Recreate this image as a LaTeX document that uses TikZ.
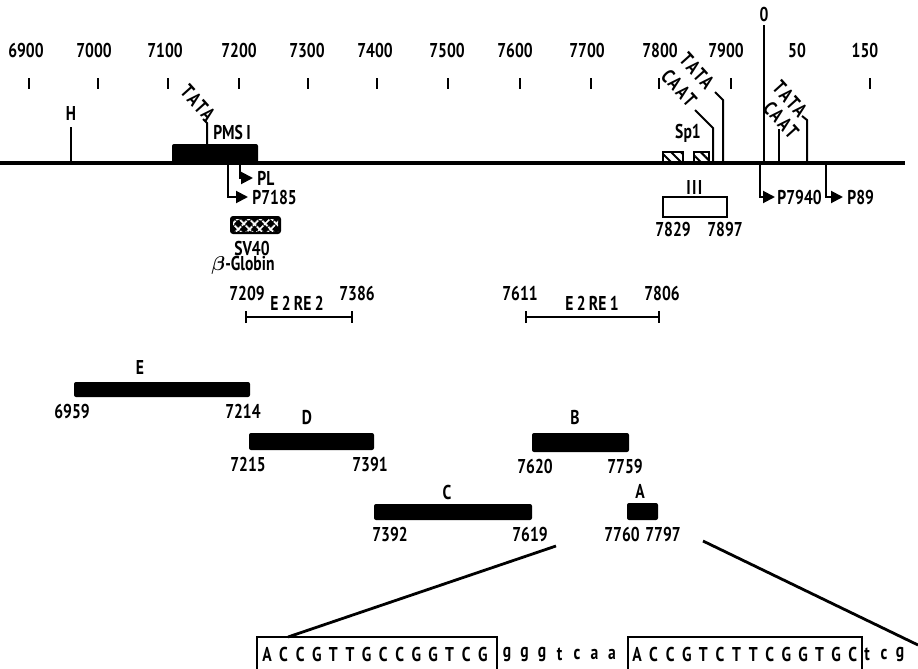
\documentclass[tikz,border=0pt]{standalone}
\usepackage{bm}
\usepackage{fontspec}
\setmainfont{PT Sans}[FakeStretch=0.78]
\newfontfamily\boxfont{PT Sans}[FakeStretch=0.78, LetterSpace=12]
\usetikzlibrary{arrows.meta, patterns.meta}
\tikzset{
  lbl/.style={font=\fontsize{10}{11}\selectfont\bfseries, inner sep=0pt},
  rlbl/.style={lbl, font=\boxfont\fontsize{10}{11}\selectfont\bfseries, rotate=-48},
  plbl/.style={lbl, anchor=west, inner xsep=2pt},
  frag/.style={fill=black, rounded corners=1pt},
  stem/.style={line width=1pt},
  tickmark/.style={line width=1pt},
  prom/.style={line width=1pt, -{Triangle[length=6pt, width=6pt]}},
  erange/.style={line width=1pt, {Bar[width=6pt]}-{Bar[width=6pt]}},
  seqbox/.style={line width=0.8pt},
  zoomline/.style={line width=1.4pt},
}

\begin{document}
\begin{tikzpicture}[x=0.5pt, y=-0.5pt]
  \useasboundingbox (0,0) rectangle (918,669);

  %% Scale
  \foreach \x/\t in {26/6900, 94/7000, 165/7100, 239/7200, 307/7300, 375/7400, 447/7500,
                     515/7600, 587/7700, 660/7800, 726/7900, 797/50, 865/150}{
    \node[lbl] (sc\t) at (\x,50) {\t};
  }
  \foreach \x in {29, 98, 168, 239, 308, 377, 448, 520, 591, 659, 731, 870}{
    \draw[tickmark] (\x,78) -- (\x,89);
  }

  %% Genome line
  \draw[line width=1.8pt] (0,163) -- (905,163);

  % left part
  \draw[stem] (71,163) -- (71,127);
  \node[lbl] (hsite) at (71,113) {H};
  \fill[frag] (172,144) rectangle (258,164);
  \draw[stem] (207,144) -- (207,123) -- (203,119);
  \node[rlbl] (tata0) at (198,103) {TATA};
  \node[lbl] (pms) at (232,133) {PMS\,I};

  % promoters
  \node[plbl] (pl) at (253,178) {PL};
  \node[plbl] (p7185) at (248,197) {P7185};
  \node[plbl, inner xsep=1pt] (p7940) at (775,197) {P7940};
  \node[plbl] (p89) at (843,197) {P89};
  \draw[prom] (240,163) |- (pl.west);
  \draw[prom] (228,163) |- (p7185.west);
  \draw[prom] (760,163) |- (p7940.west);
  \draw[prom] (826,163) |- (p89.west);

  % SV40 box
  \fill[black, rounded corners=1.5pt] (230,216) rectangle (281,234);
  \fill[pattern={Lines[angle=45, distance=4pt, line width=0.9pt]}, pattern color=white] (233,219) rectangle (278,231);
  \fill[pattern={Lines[angle=-45, distance=4pt, line width=0.9pt]}, pattern color=white] (233,219) rectangle (278,231);
  \node[lbl] (sv40) at (252,249) {SV40};
  \node[lbl] (globin) at (243,265) {$\bm{\beta}$-Globin};

  % right part
  \node[lbl] (sp1) at (688,133) {Sp1};
  \foreach \a/\b in {663/683, 694/709}{
    \draw[line width=0.8pt, pattern={Lines[angle=-45, distance=3.5pt, line width=1pt]}] (\a,152) rectangle (\b,163);
  }
  \draw[stem] (713,163) -- (713,128) -- (695,110);
  \node[rlbl] (caat1) at (679,88) {CAAT};
  \draw[stem] (723,163) -- (723,100) -- (715,92);
  \node[rlbl] (tata1) at (697,71) {TATA};
  \draw[stem] (764,163) -- (764,25);
  \node[lbl] (ori) at (764,15) {0};
  \draw[stem] (779,163) -- (779,129);
  \node[rlbl] (caat2) at (781,120) {CAAT};
  \draw[stem] (807,163) -- (807,120) -- (802,116);
  \node[rlbl] (tata2) at (790,99) {TATA};

  % region III
  \draw[line width=1pt] (663,197) rectangle (727,217);
  \node[lbl] (iii) at (695,187) {$\mathbf{III}$};
  \node[lbl] (r7829) at (673,229) {7829};
  \node[lbl] (r7897) at (725,229) {7897};

  %% E2 response elements
  \draw[erange] (245,317) -- (353,317);
  \node[lbl] (e2a) at (247,293) {7209};
  \node[lbl] (e2b) at (297,303) {E\,2\,RE\,2};
  \node[lbl] (e2c) at (357,293) {7386};
  \draw[erange] (525,317) -- (660,317);
  \node[lbl] (e1a) at (520,293) {7611};
  \node[lbl] (e1b) at (592,303) {E\,2\,RE\,1};
  \node[lbl] (e1c) at (662,293) {7806};

  %% Fragments
  \foreach \n/\xa/\xb/\ya/\yb/\xl/\yl/\la/\lb/\na/\nb in {
      E/74/250/382/397/140/367/72/243/6959/7214,
      D/249/374/433/450/307/418/248/370/7215/7391,
      C/374/532/504/520/447/492/390/530/7392/7619,
      B/532/629/433/452/575/417/535/625/7620/7759,
      A/627/658/503/520/640/491/622/663/7760/7797}{
    \fill[frag] (\xa,\ya) rectangle (\xb,\yb);
    \node[lbl] (fr\n) at (\xl,\yl) {\n};
    \node[lbl] (fr\n a) at (\la,\yb+14) {\na};
    \node[lbl] (fr\n b) at (\lb,\yb+14) {\nb};
  }

  %% Sequence
  \coordinate (zoomL) at (556,546);
  \coordinate (seqL) at (288,637);
  \coordinate (zoomR) at (703,541);
  \coordinate (seqR) at (918,645);
  \draw[zoomline] (zoomL) -- (seqL);
  \draw[zoomline] (zoomR) -- (seqR);
  \draw[seqbox] (257,669) -- (257,637) -- (497,637) -- (497,669);
  \draw[seqbox] (628,669) -- (628,637) -- (862,637) -- (862,669);
  \foreach \c [count=\i] in {A,C,C,G,T,T,G,C,C,G,G,T,C,G}{
    \node[lbl] (sqa\i) at ({267+16.6*(\i-1)},654) {\c};
  }
  \foreach \c [count=\i] in {g,g,g,t,c,a,a}{
    \node[lbl] (sqb\i) at ({507+17.5*(\i-1)},654) {\c};
  }
  \foreach \c [count=\i] in {A,C,C,G,T,C,T,T,C,G,G,T,G,C}{
    \node[lbl] (sqc\i) at ({637+16.6*(\i-1)},654) {\c};
  }
  \foreach \c/\x [count=\i] in {t/867, c/884, g/900}{
    \node[lbl] (sqd\i) at (\x,654) {\c};
  }

\end{tikzpicture}
\end{document}
